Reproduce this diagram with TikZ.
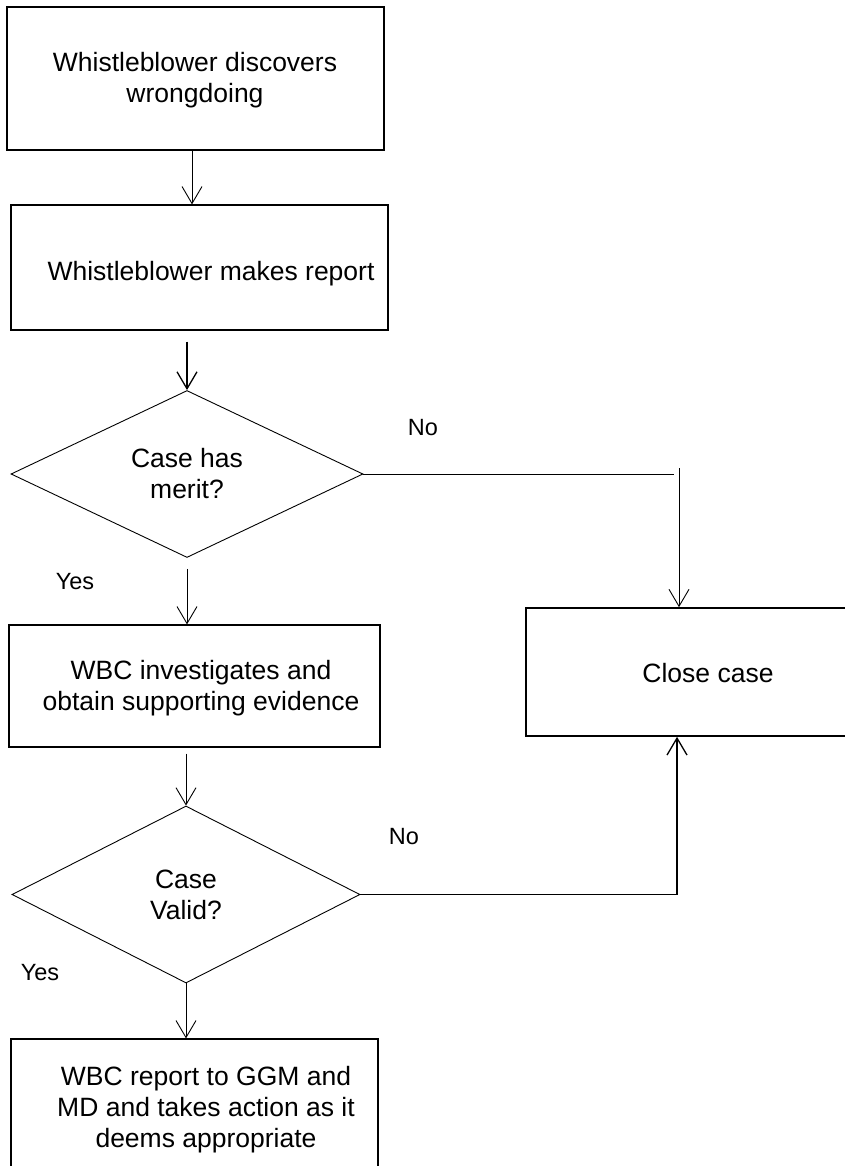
\documentclass[tikz,border=0pt]{standalone}
\usepackage{fontspec}
\setmainfont{Liberation Sans}
\usetikzlibrary{arrows.meta,shapes.geometric}
\tikzset{
 boxshape/.style={draw, line width=1.2pt, inner sep=0pt},
 dia/.style={draw, diamond, line width=0.9pt, inner sep=0pt},
 txt/.style={font=\fontsize{26.5}{31}\selectfont, align=center, inner sep=0pt},
 lbl/.style={font=\fontsize{23.5}{28}\selectfont, inner sep=0pt},
 arr/.style={line width=0.9pt, -{Straight Barb[length=17pt,width=20pt,line width=0.9pt]}},
 arrthick/.style={line width=1.3pt, -{Straight Barb[length=17pt,width=20pt,line width=1.3pt]}},
 conn/.style={line width=0.9pt},
}
\begin{document}
\begin{tikzpicture}[x=1pt,y=-1pt]
\useasboundingbox (0,0) rectangle (844,1166);
\node[boxshape, minimum width=377pt, minimum height=143pt] (b1) at (195.5,78.5) {};
\node[txt] (t1) at (195,80) {Whistleblower discovers\\wrongdoing};
\node[boxshape, minimum width=377pt, minimum height=125pt] (b2) at (199.5,267.5) {};
\node[txt] (t2) at (211,274) {Whistleblower makes report};
\node[dia, minimum width=352pt, minimum height=167pt] (d1) at (187,474) {};
\node[txt] (t3) at (187,474) {Case has\\merit?};
\node[boxshape, minimum width=371pt, minimum height=122pt] (b3) at (194.5,686) {};
\node[txt] (t4) at (201,688) {WBC investigates and\\obtain supporting evidence};
\node[boxshape, line width=1.6pt, minimum width=324pt, minimum height=128pt] (cb) at (688,672) {};
\node[txt] (t5) at (708,673) {Close case};
\node[dia, minimum width=348pt, minimum height=177pt] (d2) at (186,894.5) {};
\node[txt] (t6) at (186,895) {Case\\Valid?};
\node[boxshape, minimum width=367pt, minimum height=133pt] (b5) at (194.5,1105.5) {};
\node[txt] (t7) at (206,1110) {WBC report to GGM and\\MD and takes action as it\\deems appropriate};
\node[lbl] (no1) at (423,428) {No};
\node[lbl] (yes1) at (75,582) {Yes};
\node[lbl] (no2) at (404,837) {No};
\node[lbl] (yes2) at (40,973) {Yes};
\draw[arr] ([xshift=-3.5pt]b1.south) -- ([xshift=-7.5pt]b2.north);
\draw[arrthick] ([xshift=-12.5pt,yshift=-11pt]b2.south) -- (d1.north);
\draw[arr] ([yshift=-11pt]d1.south) -- ([xshift=-7.5pt]b3.north);
\draw[arr] ([xshift=-8.5pt,yshift=-6pt]b3.south) -- (d2.north);
\draw[arr] (d2.south) -- ([xshift=-8.5pt]b5.north);
\coordinate (c1) at (674,474);
\draw[conn] (d1.east) -- (c1);
\coordinate (c2) at (679,468);
\draw[arr] (c2) -- ([xshift=-9pt]cb.north);
\draw[arrthick] (d2.east) -| ([xshift=-11pt]cb.south);
\end{tikzpicture}
\end{document}
